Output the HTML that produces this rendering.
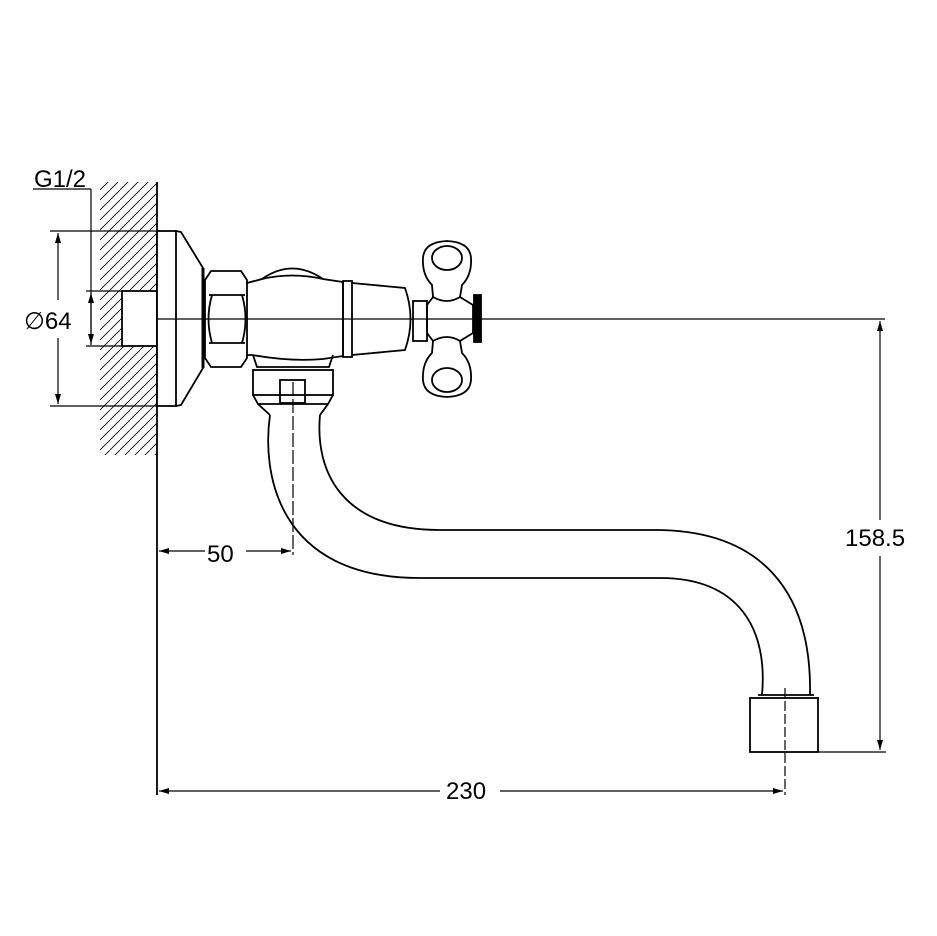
<!DOCTYPE html><html><head><style>body{margin:0;background:#fff}svg{display:block}text{font-family:"Liberation Sans",sans-serif;font-size:24px;fill:#000}</style></head><body>
<svg width="937" height="936" viewBox="0 0 937 936" xmlns="http://www.w3.org/2000/svg">
<defs><pattern id="h" width="10" height="10" patternUnits="userSpaceOnUse"><line x1="0" y1="10" x2="10" y2="0" stroke="#000" stroke-width="0.8"/></pattern>
<marker id="a" viewBox="0 0 10 6" refX="10" refY="3" markerWidth="14" markerHeight="6" orient="auto-start-reverse" markerUnits="userSpaceOnUse"><path d="M0,0L10,3L0,6z"/></marker></defs>
<g fill="none" stroke="#000" stroke-width="1.8">
<rect x="100" y="182" width="57" height="273" fill="url(#h)" stroke="none"/>
<rect x="122" y="291" width="36" height="55" fill="#fff" stroke="none"/>
<line x1="157" y1="182" x2="157" y2="795"/>
<rect x="122" y="291" width="35" height="55"/>
<!-- flange -->
<rect x="157" y="231" width="19" height="175" fill="#fff"/>
<path d="M176,231 L181,232 L203,268 L203,368 L181,405 L176,406"/>
<line x1="203" y1="268" x2="203" y2="368" stroke-width="3"/>
<!-- hex nut -->
<path d="M211,271 L241,271 L247,280 L247,358 L241,367 L211,367 L205,358 L205,280 Z"/>
<path d="M209,295 L245,295 M209,343 L245,343 M212,295 Q205,319 212,343 M242,295 Q249,319 242,343"/>
<!-- body -->
<path d="M247,283 L262,279 Q292,258 323,279 L343,282 L343,356 L323,359 Q292,362 252,355 L247,355"/>
<path d="M262,279 Q292,272 323,279"/>
<rect x="343" y="281" width="9" height="76"/>
<path d="M352,283 L405,288 Q416,319 405,350 L352,355"/>
<rect x="413" y="301" width="14" height="40"/>
<!-- handles -->
<path d="M433,297 L432,285 Q422,275 423,258 Q424,242 447,241 Q470,242 471,258 Q472,275 462,285 L460,297 L473,305 L473,333 L460,341 L462,353 Q472,363 471,380 Q470,396 447,397 Q424,396 423,380 Q422,363 432,353 L433,341 L427,333 L427,305 Z"/>
<ellipse cx="447" cy="258" rx="15" ry="12"/><ellipse cx="447" cy="380" rx="15" ry="12"/>
<path d="M433,297 Q447,305 460,297 M433,341 Q447,333 460,341"/>
<rect x="474" y="295" width="7" height="47" fill="#000"/>
<line x1="157" y1="319" x2="885" y2="319" stroke-width="1.2"/>
<!-- lower connector -->
<path d="M253,355 L257,367 L329,367 L333,355"/>
<rect x="253" y="370" width="80" height="25"/>
<rect x="280" y="380" width="25" height="23"/>
<path d="M253,395 L258,404 L270,415 M333,395 L328,404 L320,415 M258,404 L328,404"/>
<!-- pipe -->
<path d="M270,415 C262,470 275,578 420,578 L660,578 C740,578 768,630 762,695"/>
<path d="M320,415 C315,470 340,530 440,530 L655,530 C760,530 812,590 810,695"/>
<line x1="758" y1="695" x2="814" y2="695"/>
<rect x="750" y="698" width="68" height="54"/>
<line x1="785" y1="688" x2="785" y2="795" stroke-width="1.2" stroke-dasharray="10,3"/>
<line x1="293" y1="382" x2="293" y2="555" stroke-width="1.2" stroke-dasharray="14,3"/>
<!-- dims -->
<g stroke-width="1.2">
<line x1="50" y1="231" x2="160" y2="231"/><line x1="50" y1="406" x2="160" y2="406"/>
<line x1="58" y1="233" x2="58" y2="300" marker-start="url(#a)"/><line x1="58" y1="338" x2="58" y2="404" marker-end="url(#a)"/>
<line x1="33" y1="189" x2="91" y2="189"/><line x1="91" y1="189" x2="91" y2="345" />
<line x1="86" y1="291" x2="122" y2="291"/><line x1="86" y1="346" x2="122" y2="346"/>
<line x1="91" y1="293" x2="91" y2="344" marker-start="url(#a)" marker-end="url(#a)"/>
<line x1="159" y1="551" x2="205" y2="551" marker-start="url(#a)"/><line x1="246" y1="551" x2="291" y2="551" marker-end="url(#a)"/>
<line x1="159" y1="791" x2="440" y2="791" marker-start="url(#a)"/><line x1="500" y1="791" x2="783" y2="791" marker-end="url(#a)"/>
<line x1="818" y1="752" x2="886" y2="752"/>
<line x1="880" y1="321" x2="880" y2="520" marker-start="url(#a)"/><line x1="880" y1="556" x2="880" y2="750" marker-end="url(#a)"/>
</g></g>
<text x="34" y="187">G1/2</text>
<text x="24" y="329">∅64</text>
<text x="207" y="562">50</text>
<text x="446" y="799">230</text>
<text x="845" y="546">158.5</text>
</svg></body></html>
